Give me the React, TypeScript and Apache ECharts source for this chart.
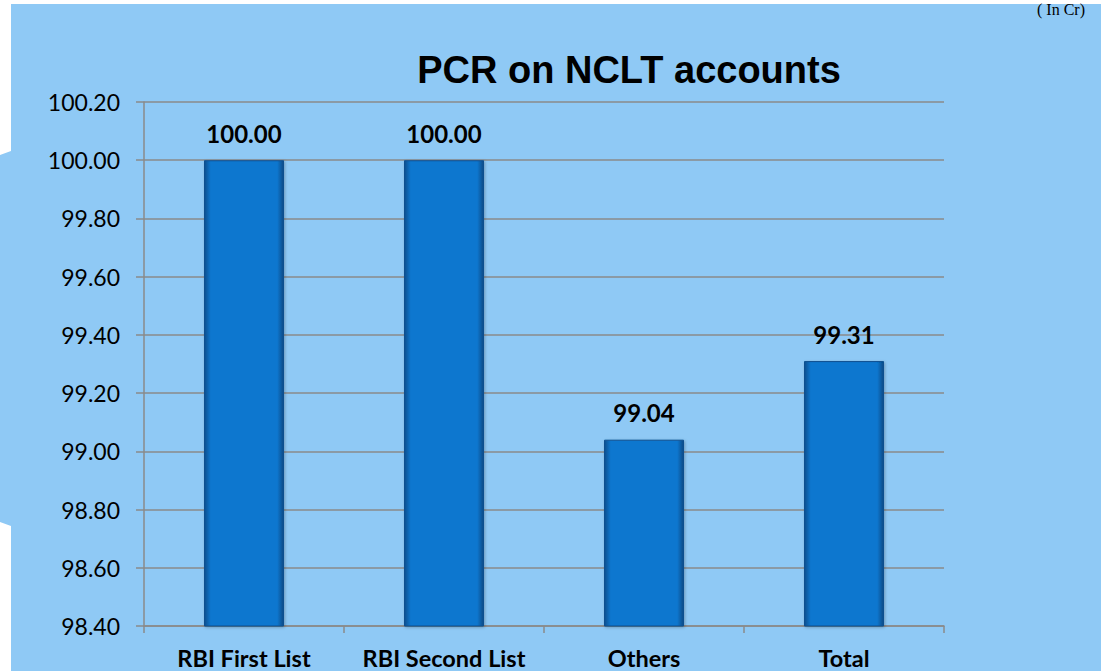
import React, { useEffect, useRef } from "react";
import * as echarts from "echarts";

const categories = ["RBI First List", "RBI Second List", "Others", "Total"];
const pcrValues = [100.0, 100.0, 99.04, 99.31];
const yMin = 98.4;
const yMax = 100.2;
const yStep = 0.2;
const titleText = "PCR on NCLT accounts";
const unitText = "( In Cr)";

export default function App() {
  const ref = useRef<HTMLDivElement>(null);
  useEffect(() => {
    if (!ref.current) return;
    const chart = echarts.init(ref.current, undefined, { renderer: "svg" });
    const bg = "#8FC9F5";
    chart.setOption({
      animation: false,
      backgroundColor: "#ffffff",
      title: {
        text: titleText,
        left: 624,
        top: 46,
        textAlign: "center",
        textStyle: { fontFamily: "Liberation Sans, Arial", fontWeight: "bold", fontSize: 38, color: "#000" },
      },
      graphic: [
        {
          type: "polygon",
          z: -10,
          silent: true,
          shape: {
            points: [
              [11, 4], [1101, 4], [1101, 671], [11, 671], [11, 526], [0, 522],
              [0, 155], [11, 151],
            ],
          },
          style: { fill: bg },
        },
        {
          type: "text",
          z: 10,
          x: 1085,
          y: 1,
          style: {
            text: unitText,
            textAlign: "right",
            textVerticalAlign: "top",
            font: "16px 'Liberation Serif', 'Times New Roman', serif",
            fill: "#000",
          },
        },
      ],
      grid: { left: 144, right: 157, top: 102, bottom: 45, containLabel: false },
      xAxis: {
        type: "category",
        data: categories,
        axisLine: { lineStyle: { color: "#8a8a8a", width: 1.5 } },
        axisTick: { show: true, interval: 0, length: 7, lineStyle: { color: "#8a8a8a", width: 1.5 } },
        axisLabel: {
          interval: 0,
          margin: 20,
          fontFamily: "Lato, 'Open Sans', sans-serif",
          fontWeight: "bold",
          fontSize: 23.5,
          color: "#000",
        },
      },
      yAxis: {
        type: "value",
        min: yMin,
        max: yMax,
        interval: yStep,
        axisLine: { show: true, lineStyle: { color: "#8a8a8a", width: 1.5 } },
        axisTick: { show: true, length: 8, lineStyle: { color: "#8a8a8a", width: 1.5 } },
        splitLine: { show: true, lineStyle: { color: "#8a8a8a", width: 1.5 } },
        axisLabel: {
          margin: 24,
          fontFamily: "Lato, 'Open Sans', sans-serif",
          fontSize: 23,
          color: "#000",
          formatter: (v: number) => v.toFixed(2),
        },
      },
      series: [
        {
          type: "bar",
          data: pcrValues,
          barWidth: "40%",
          itemStyle: {
            color: new echarts.graphic.LinearGradient(0, 0, 1, 0, [
              { offset: 0, color: "#094f8e" },
              { offset: 0.08, color: "#0877cf" },
              { offset: 0.92, color: "#0877cf" },
              { offset: 1, color: "#074a86" },
            ]),
            borderColor: "#0a4f8f",
            borderWidth: 1,
            shadowColor: "rgba(0,0,0,0.25)",
            shadowBlur: 3,
            shadowOffsetX: 1,
            shadowOffsetY: 1,
          },
          label: {
            show: true,
            position: "top",
            distance: 15,
            fontFamily: "Lato, 'Open Sans', sans-serif",
            fontWeight: "bold",
            fontSize: 24,
            color: "#000",
            formatter: (p: any) => Number(p.value).toFixed(2),
          },
        },
      ],
    });
    return () => chart.dispose();
  }, []);
  return (
    <div
      ref={ref}
      style={{ position: "fixed", left: 0, top: 0, width: 1101, height: 671 }}
    />
  );
}
